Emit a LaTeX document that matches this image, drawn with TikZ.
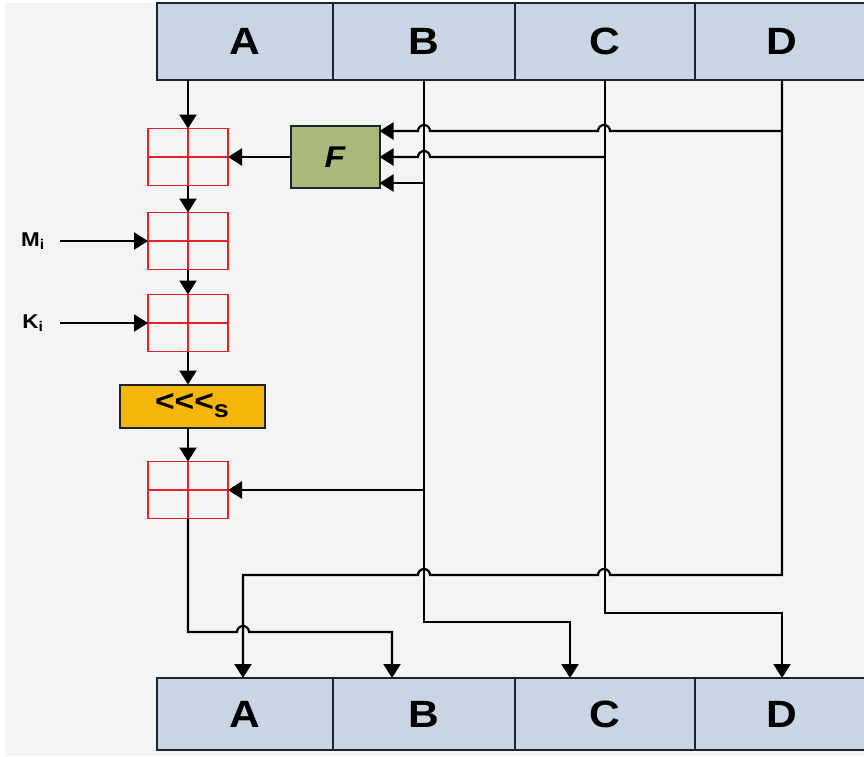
\documentclass[tikz,border=0pt]{standalone}
\usepackage{fontspec}
\setmainfont[FakeStretch=1.12]{Liberation Sans}
\usetikzlibrary{arrows.meta,calc}
\definecolor{bgpaper}{RGB}{244,244,244}
\definecolor{regblue}{RGB}{201,213,228}
\definecolor{boxline}{RGB}{30,36,46}
\definecolor{addred}{RGB}{232,32,42}
\definecolor{fgreen}{RGB}{168,185,122}
\definecolor{rotorange}{RGB}{245,182,10}

\begin{document}
\begin{tikzpicture}[x=1pt, y=-1pt,
  reg/.style={draw=boxline, line width=2pt, fill=regblue, minimum height=77pt, inner sep=0pt, outer sep=0pt, font=\fontsize{38}{38}\selectfont\bfseries},
  adder/.style={draw=addred, line width=1.3pt, fill=bgpaper, minimum width=80pt, minimum height=57pt, inner sep=0pt, outer sep=0pt,
    path picture={\draw[addred, line width=1.8pt] (path picture bounding box.north) -- (path picture bounding box.south)
      (path picture bounding box.west) -- (path picture bounding box.east);}},
  fbox/.style={draw=boxline, line width=2pt, fill=fgreen, minimum width=89pt, minimum height=62pt, outer sep=0pt, font=\fontsize{30}{30}\selectfont\bfseries\itshape},
  rotbox/.style={draw=boxline, line width=2pt, fill=rotorange, minimum width=145pt, minimum height=43pt, inner sep=0pt, outer sep=0pt, font=\bfseries},
  lbl/.style={font=\fontsize{20}{20}\selectfont\bfseries, inner sep=1pt},
  arr/.style={line width=2.2pt, draw=black, -{Triangle[length=14pt,width=17pt]}}
]
\fill[white] (0,0) rectangle (864,756);
\fill[bgpaper] (5,3) rectangle (864,756);
\useasboundingbox (0,0) rectangle (864,756);

% registers in
\node[reg, minimum width=176pt] (tA) at (245,41.5) {A};
\node[reg, minimum width=182pt] (tB) at (424,41.5) {B};
\node[reg, minimum width=180pt] (tC) at (605,41.5) {C};
\node[reg, minimum width=174pt] (tD) at (782,41.5) {D};

% registers out
\node[reg, minimum width=176pt, minimum height=72pt] (bA) at (245,714) {A};
\node[reg, minimum width=182pt, minimum height=72pt] (bB) at (424,714) {B};
\node[reg, minimum width=180pt, minimum height=72pt] (bC) at (605,714) {C};
\node[reg, minimum width=174pt, minimum height=72pt] (bD) at (782,714) {D};

% round function
\node[adder] (add1) at (188,157) {};
\node[adder] (add2) at (188,241) {};
\node[adder] (add3) at (188,323) {};
\node[rotbox] (rot) at (192,406) {\raisebox{-3pt}{\fontsize{30}{30}\selectfont {<}{<}{<}}{\fontsize{24}{24}\selectfont\raisebox{-9pt}{s}}};
\node[adder] (add4) at (188,490) {};
\node[fbox] (F) at (335,157) {F};

\node[lbl] (Mi) at (33,241) {M\textsubscript{i}};
\node[lbl] (Ki) at (33,323) {K\textsubscript{i}};

\coordinate (Fin1) at ($(F.east)+(0,-26)$);
\coordinate (Fin2) at (F.east);
\coordinate (Fin3) at ($(F.east)+(0,26)$);

% A path
\draw[arr] (add1.north |- tA.south) -- (add1.north);
\draw[arr] (add1.south) -- (add2.north);
\draw[arr] (add2.south) -- (add3.north);
\draw[arr] (add3.south) -- (add3.south |- rot.north);
\draw[arr] (add4.north |- rot.south) -- (add4.north);
\draw[arr] (F.west) -- (add1.east);
\draw[arr] (60,241) -- (add2.west);
\draw[arr] (60,323) -- (add3.west);

% inputs of F
\draw[arr] (tD.south |- Fin1) -- (610,131) arc[start angle=0, end angle=-180, radius=6]
  -- (430,131) arc[start angle=0, end angle=-180, radius=6] -- (Fin1);
\draw[arr] (tC.south |- Fin2) -- (430,157) arc[start angle=0, end angle=-180, radius=6] -- (Fin2);
\draw[arr] (tB.south |- Fin3) -- (Fin3);
\draw[arr] (tB.south |- add4.east) -- (add4.east);

% word permutation
\draw[arr] (add4.south) |- (237,632) arc[start angle=180, end angle=360, radius=6]
  -- ($(bB.north)+(-32,-46)$) -- ($(bB.north)+(-32,0)$);
\draw[arr] (tD.south) -- (782,575) -- (610,575) arc[start angle=0, end angle=-180, radius=6]
  -- (430,575) arc[start angle=0, end angle=-180, radius=6]
  -- ($(bA.north)+(-2,-103)$) -- ($(bA.north)+(-2,0)$);
\draw[arr] (tB.south) |- ($(bC.north)+(-35,-56)$) -- ($(bC.north)+(-35,0)$);
\draw[arr] (tC.south) |- ($(bD.north)+(0,-65)$) -- (bD.north);

\end{tikzpicture}
\end{document}
